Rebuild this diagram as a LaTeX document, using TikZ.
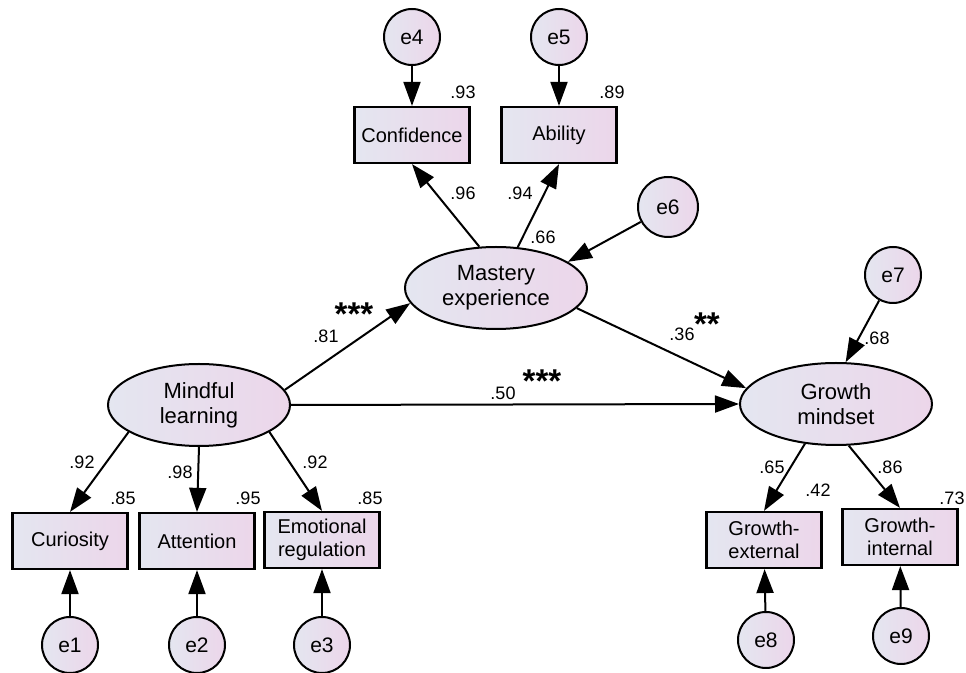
\documentclass[tikz,border=0pt]{standalone}
\usepackage{fontspec}
\setmainfont{Liberation Sans}
\usetikzlibrary{shapes.geometric,arrows.meta}
\definecolor{fillL}{RGB}{228,230,240}
\definecolor{fillR}{RGB}{236,214,234}

\begin{document}
\begin{tikzpicture}[x=0.5pt,y=-0.5pt,
    every node/.style={inner sep=0pt},
    latent/.style={draw,ellipse,line width=1pt,left color=fillL,right color=fillR,
      minimum width=91pt,minimum height=41pt,align=center,font=\fontsize{11}{12.5}\selectfont},
    obs/.style={draw,rectangle,line width=1.1pt,left color=fillL,right color=fillR,
      minimum width=57.5pt,minimum height=28pt,align=center,font=\fontsize{10}{11.5}\selectfont},
    err/.style={draw,circle,line width=1pt,left color=fillL,right color=fillR,
      minimum size=28pt,font=\fontsize{10.5}{12}\selectfont},
    coef/.style={font=\fontsize{9}{10}\selectfont},
    sig/.style={font=\bfseries\fontsize{16.5}{16}\selectfont},
    path/.style={line width=1pt,-{Triangle[length=12pt,width=8.5pt]}}]
  \useasboundingbox (0,0) rectangle (966,673);

  % latent variables
  \node[latent] (ml) at (199,405) {Mindful\\learning};
  \node[latent] (me) at (496,288) {Mastery\\experience};
  \node[latent,minimum width=96pt] (gm) at (836,404) {Growth\\mindset};

  % indicators
  \node[obs] (cur) at (70,541) {Curiosity};
  \node[obs] (att) at (197,541) {Attention};
  \node[obs] (emo) at (322,540) {Emotional\\regulation};
  \node[obs] (conf) at (412,135) {Confidence};
  \node[obs] (abil) at (559,135) {Ability};
  \node[obs] (gext) at (764,540) {Growth-\\external};
  \node[obs] (gint) at (900,537) {Growth-\\internal};

  % errors
  \node[err] (e1) at (70,645) {e1};
  \node[err] (e2) at (197,645) {e2};
  \node[err] (e3) at (322,645) {e3};
  \node[err] (e4) at (412,37) {e4};
  \node[err] (e5) at (559,37) {e5};
  \node[err,minimum size=30pt] (e6) at (668,207) {e6};
  \node[err] (e7) at (893,275) {e7};
  \node[err] (e8) at (766,640) {e8};
  \node[err] (e9) at (901,636) {e9};

  \draw[path] (ml.201) -- (cur.north);
  \draw[path] (ml.south) -- (att.north);
  \draw[path] (ml.339) -- (emo.north);
  \draw[path] (ml.10) -- (me.190);
  \draw[path] (ml.east) -- (gm.west);
  \draw[path] (me.112) -- (conf.south);
  \draw[path] (me.62) -- (abil.south);
  \draw[path] (me.346) -- (gm.170);
  \draw[path] (gm.232) -- (gext.north);
  \draw[path] (gm.287) -- (gint.north);
  \draw[path] (e1) -- (cur);
  \draw[path] (e2) -- (att);
  \draw[path] (e3) -- (emo);
  \draw[path] (e4) -- (conf);
  \draw[path] (e5) -- (abil);
  \draw[path] (e6) -- (me.20);
  \draw[path] (e7) -- (gm.77);
  \draw[path] (e8) -- (gext);
  \draw[path] (e9) -- (gint);

  % coefficients
  \node[coef] (c1) at (82,462) {.92};
  \node[coef] (c2) at (180,472) {.98};
  \node[coef] (c3) at (315,462) {.92};
  \node[coef] (r1) at (123,498) {.85};
  \node[coef] (r2) at (248,498) {.95};
  \node[coef] (r3) at (370,498) {.85};
  \node[coef] (r4) at (463,92) {.93};
  \node[coef] (r5) at (612,92) {.89};
  \node[coef] (c4) at (463,193) {.96};
  \node[coef] (c5) at (520,193) {.94};
  \node[coef] (r6) at (543,237) {.66};
  \node[coef] (c6) at (326,336) {.81};
  \node[sig] (s1) at (354,314) {***};
  \node[coef] (c7) at (503,393) {.50};
  \node[sig] (s2) at (542,381) {***};
  \node[coef] (c8) at (682,334) {.36};
  \node[sig] (s3) at (707,324) {**};
  \node[coef] (r7) at (877,338) {.68};
  \node[coef] (c9) at (772,467) {.65};
  \node[coef] (c10) at (890,467) {.86};
  \node[coef] (r8) at (818,490) {.42};
  \node[coef] (r9) at (952,498) {.73};
\end{tikzpicture}
\end{document}
